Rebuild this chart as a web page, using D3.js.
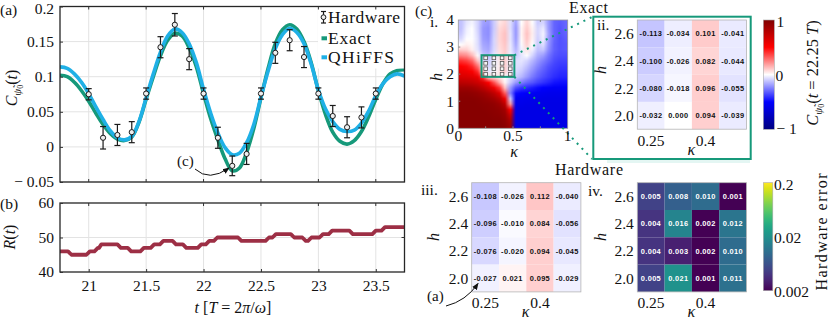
<!DOCTYPE html>
<html>
<head>
<meta charset="utf-8">
<script src="https://cdn.jsdelivr.net/npm/d3@7"></script>
<style>
  body { margin: 0; background: #fff; }
  svg { display: block; }
</style>
</head>
<body>
<svg id="chart" width="830" height="319"></svg>
<script>
// ---- values ----
const tSample = d3.range(20.75, 23.7501, 0.0625);
const exactC = [0.102, 0.100, 0.092, 0.080, 0.065, 0.048, 0.032, 0.019, 0.011, 0.009, 0.014, 0.035,
  0.068, 0.100, 0.130, 0.152, 0.162, 0.158, 0.141, 0.114, 0.076, 0.040, 0.010, -0.017, -0.034, -0.030,
  -0.008, 0.026, 0.070, 0.112, 0.147, 0.167, 0.174, 0.168, 0.150, 0.120, 0.080, 0.046, 0.021, 0.008,
  0.004, 0.009, 0.022, 0.043, 0.068, 0.090, 0.104, 0.109, 0.110];
const qhiffsC = [0.114, 0.112, 0.104, 0.092, 0.076, 0.057, 0.039, 0.023, 0.013, 0.010, 0.015, 0.036,
  0.070, 0.104, 0.135, 0.158, 0.168, 0.163, 0.147, 0.120, 0.082, 0.048, 0.020, -0.001, -0.011, -0.009,
  0.006, 0.032, 0.071, 0.108, 0.140, 0.160, 0.169, 0.163, 0.147, 0.118, 0.081, 0.054, 0.036, 0.025,
  0.022, 0.024, 0.034, 0.051, 0.073, 0.090, 0.100, 0.104, 0.101];
const hwTimes = d3.range(21, 23.5001, 0.125);
const hwC = [0.075, 0.013, 0.017, 0.021, 0.076, 0.142, 0.174, 0.125, 0.076, 0.013, -0.027,
  -0.010, 0.076, 0.134, 0.152, 0.128, 0.076, 0.044, 0.028, 0.042, 0.076];
const hwErr = [0.008, 0.016, 0.015, 0.015, 0.008, 0.015, 0.016, 0.015, 0.008, 0.015, 0.014,
  0.015, 0.008, 0.015, 0.015, 0.015, 0.008, 0.015, 0.015, 0.015, 0.008];

const rTimes = [20.75, 20.82, 20.85, 20.98, 21.01, 21.05, 21.08, 21.09, 21.11, 21.25, 21.28, 21.34,
  21.37, 21.45, 21.48, 21.54, 21.57, 21.62, 21.65, 21.73, 21.76, 21.82, 21.85, 21.95, 21.98, 22.02,
  22.05, 22.09, 22.12, 22.30, 22.33, 22.54, 22.57, 22.60, 22.63, 22.76, 22.79, 22.86, 22.89, 22.91,
  22.94, 23.01, 23.04, 23.09, 23.12, 23.27, 23.30, 23.47, 23.50, 23.55, 23.58, 23.75];
const rValues = [46, 46, 45, 45, 46, 46, 47, 47, 48, 48, 47, 47, 46, 46, 47, 47, 48, 48, 49, 49, 48, 48,
  47, 47, 48, 48, 49, 49, 50, 50, 49, 49, 50, 50, 51, 51, 50, 50, 49, 49, 50, 50, 51, 51, 52, 52, 51, 51,
  52, 52, 53, 53];

const kappaCells = [0.25, 0.325, 0.4, 0.475];
const hCells = [2.6, 2.4, 2.2, 2.0];
const exactCells = [
  [-0.113, -0.034, 0.101, -0.041],
  [-0.100, -0.026, 0.082, -0.044],
  [-0.080, -0.018, 0.096, -0.055],
  [-0.032, 0.000, 0.094, -0.039]];
const hardwareCells = [
  [-0.108, -0.026, 0.112, -0.040],
  [-0.096, -0.010, 0.084, -0.056],
  [-0.076, -0.020, 0.094, -0.045],
  [-0.027, 0.021, 0.095, -0.029]];
const errorCells = [
  [0.005, 0.008, 0.010, 0.001],
  [0.004, 0.016, 0.002, 0.012],
  [0.004, 0.003, 0.002, 0.010],
  [0.005, 0.021, 0.001, 0.011]];

// exact map C(t=22.25T) over kappa in [0,1] (20 cells), h from 4 down to 0 (20 cells)
const mapRows = [
  [-0.12,-0.05,-0.02,-0.08,-0.18,-0.20,-0.10,0.05,0.08,-0.06,-0.18,0.00,0.08,0.00,-0.10,-0.08,-0.20,-0.30,-0.32,-0.30],
  [-0.12,-0.03,0.00,-0.08,-0.20,-0.22,-0.10,0.07,0.10,-0.06,-0.20,0.02,0.10,0.02,-0.08,-0.04,-0.20,-0.30,-0.33,-0.30],
  [-0.10,-0.02,0.00,-0.07,-0.20,-0.22,-0.09,0.08,0.12,-0.05,-0.20,0.02,0.12,0.03,-0.08,-0.02,-0.18,-0.30,-0.33,-0.31],
  [-0.07,0.00,0.00,-0.06,-0.19,-0.21,-0.08,0.08,0.12,-0.05,-0.19,0.01,0.11,0.02,-0.09,-0.03,-0.20,-0.30,-0.34,-0.32],
  [0.00,0.03,0.01,-0.06,-0.17,-0.19,-0.08,0.07,0.11,-0.04,-0.17,-0.01,0.09,0.00,-0.10,-0.06,-0.21,-0.31,-0.34,-0.33],
  [0.10,0.09,0.03,-0.05,-0.15,-0.17,-0.07,0.06,0.10,-0.04,-0.14,-0.03,0.05,-0.03,-0.12,-0.11,-0.23,-0.31,-0.34,-0.33],
  [0.24,0.22,0.14,0.01,-0.11,-0.13,-0.05,0.05,0.10,-0.03,-0.10,-0.05,0.00,-0.08,-0.16,-0.19,-0.27,-0.33,-0.35,-0.35],
  [0.40,0.37,0.30,0.12,-0.06,-0.10,-0.04,0.04,0.09,-0.03,-0.06,-0.05,-0.08,-0.14,-0.20,-0.25,-0.30,-0.35,-0.37,-0.37],
  [0.50,0.48,0.42,0.28,0.05,-0.08,-0.03,0.04,0.09,-0.04,-0.06,-0.07,-0.12,-0.18,-0.24,-0.29,-0.34,-0.37,-0.39,-0.39],
  [0.58,0.56,0.52,0.42,0.12,-0.04,-0.01,0.05,0.09,-0.04,-0.07,-0.10,-0.16,-0.22,-0.28,-0.32,-0.36,-0.39,-0.41,-0.41],
  [0.65,0.64,0.62,0.58,0.40,0.08,0.06,0.04,0.00,-0.06,-0.10,-0.14,-0.20,-0.26,-0.31,-0.35,-0.38,-0.41,-0.43,-0.43],
  [0.76,0.75,0.73,0.69,0.63,0.50,0.34,0.16,0.02,-0.10,-0.20,-0.25,-0.30,-0.33,-0.37,-0.40,-0.43,-0.46,-0.47,-0.47],
  [0.88,0.88,0.86,0.82,0.76,0.67,0.56,0.40,0.12,-0.20,-0.35,-0.40,-0.42,-0.45,-0.48,-0.50,-0.52,-0.53,-0.53,-0.53],
  [0.94,0.94,0.93,0.91,0.88,0.83,0.75,0.62,0.32,-0.25,-0.48,-0.50,-0.52,-0.54,-0.55,-0.56,-0.57,-0.57,-0.57,-0.57],
  [0.96,0.96,0.96,0.95,0.93,0.90,0.86,0.78,0.56,-0.10,-0.55,-0.56,-0.57,-0.58,-0.58,-0.59,-0.59,-0.59,-0.59,-0.59],
  [0.97,0.97,0.97,0.96,0.95,0.94,0.92,0.88,0.75,0.20,-0.58,-0.58,-0.59,-0.59,-0.60,-0.60,-0.60,-0.60,-0.60,-0.60],
  [0.97,0.97,0.97,0.97,0.96,0.95,0.94,0.92,0.86,0.50,-0.60,-0.60,-0.60,-0.60,-0.60,-0.60,-0.60,-0.60,-0.60,-0.60],
  [0.97,0.97,0.97,0.97,0.97,0.96,0.95,0.94,0.90,0.70,-0.60,-0.60,-0.60,-0.60,-0.60,-0.60,-0.60,-0.60,-0.60,-0.60],
  [0.97,0.97,0.97,0.97,0.97,0.97,0.96,0.96,0.93,0.82,-0.60,-0.60,-0.60,-0.60,-0.60,-0.60,-0.60,-0.60,-0.60,-0.60],
  [0.97,0.97,0.97,0.97,0.97,0.97,0.97,0.97,0.95,0.88,-0.60,-0.60,-0.60,-0.60,-0.60,-0.60,-0.60,-0.60,-0.60,-0.60]];

const xTicksA = [21, 21.5, 22, 22.5, 23, 23.5];
const yTicksA = [0.2, 0.15, 0.1, 0.05, 0, -0.05];
const yTicksB = [60, 50, 40];

// ---- setup ----
const serif = "Liberation Serif, DejaVu Serif, serif";
const sans = "Liberation Sans, Arial, sans-serif";
const green = "#16997a";
const blue = "#1fb0e6";
const svg = d3.select("#chart");

const defs = svg.append("defs");
defs.append("marker").attr("id", "arrow").attr("viewBox", "0 0 8 8")
  .attr("refX", 7).attr("refY", 4).attr("markerWidth", 7).attr("markerHeight", 7)
  .attr("orient", "auto").append("path").attr("d", "M0,0.8 L8,4 L0,7.2 Z").attr("fill", "#111");

function label(g, x, y, s, size, anchor) {
  return g.append("text").attr("x", x).attr("y", y).attr("font-size", size || 16)
    .attr("text-anchor", anchor || "start").attr("fill", "#111").text(s);
}

// ---- panel (a) ----
const xA = d3.scaleLinear().domain([20.75, 23.75]).range([60, 404.5]);
const yA = d3.scaleLinear().domain([-0.05, 0.2]).range([182, 6.5]);
const gA = svg.append("g");

defs.append("clipPath").attr("id", "clipA").append("rect")
  .attr("x", 60).attr("y", 6.5).attr("width", 344.5).attr("height", 175.5);

gA.selectAll(".gx").data(xTicksA).join("line")
  .attr("x1", d => xA(d)).attr("x2", d => xA(d)).attr("y1", 6.5).attr("y2", 182)
  .attr("stroke", "#e3e3e3").attr("stroke-width", 1);
gA.selectAll(".gy").data(yTicksA).join("line")
  .attr("x1", 60).attr("x2", 404.5).attr("y1", d => yA(d)).attr("y2", d => yA(d))
  .attr("stroke", "#e3e3e3").attr("stroke-width", 1);

const curveGen = d3.line().x((d, i) => xA(tSample[i])).y(d => yA(d)).curve(d3.curveCatmullRom);
const curves = gA.append("g").attr("clip-path", "url(#clipA)");
curves.append("path").attr("d", curveGen(exactC)).attr("fill", "none")
  .attr("stroke", green).attr("stroke-width", 3.6);
curves.append("path").attr("d", curveGen(qhiffsC)).attr("fill", "none")
  .attr("stroke", blue).attr("stroke-width", 3.6);

const hw = gA.append("g").selectAll("g").data(hwC).join("g");
hw.append("line").attr("x1", (d, i) => xA(hwTimes[i])).attr("x2", (d, i) => xA(hwTimes[i]))
  .attr("y1", (d, i) => yA(d - hwErr[i])).attr("y2", (d, i) => yA(d + hwErr[i]))
  .attr("stroke", "#1a1a1a").attr("stroke-width", 1.2);
[-1, 1].forEach(s => {
  hw.append("line").attr("x1", (d, i) => xA(hwTimes[i]) - 3).attr("x2", (d, i) => xA(hwTimes[i]) + 3)
    .attr("y1", (d, i) => yA(d + s * hwErr[i])).attr("y2", (d, i) => yA(d + s * hwErr[i]))
    .attr("stroke", "#1a1a1a").attr("stroke-width", 1.2);
});
hw.append("circle").attr("cx", (d, i) => xA(hwTimes[i])).attr("cy", d => yA(d)).attr("r", 2.6)
  .attr("fill", "#eeeeee").attr("stroke", "#1a1a1a").attr("stroke-width", 1);

// legend
const lg = gA.append("g");
lg.append("rect").attr("x", 318).attr("y", 7.5).attr("width", 86).attr("height", 61).attr("fill", "#fff");
lg.append("line").attr("x1", 323.5).attr("x2", 323.5).attr("y1", 11.5).attr("y2", 23).attr("stroke", "#1a1a1a").attr("stroke-width", 1.2);
lg.append("line").attr("x1", 321).attr("x2", 326).attr("y1", 11.5).attr("y2", 11.5).attr("stroke", "#1a1a1a").attr("stroke-width", 1.2);
lg.append("line").attr("x1", 321).attr("x2", 326).attr("y1", 23).attr("y2", 23).attr("stroke", "#1a1a1a").attr("stroke-width", 1.2);
lg.append("circle").attr("cx", 323.5).attr("cy", 17.2).attr("r", 2.4).attr("fill", "#eee").attr("stroke", "#1a1a1a");
lg.append("line").attr("x1", 321.5).attr("x2", 327).attr("y1", 38.3).attr("y2", 38.3).attr("stroke", green).attr("stroke-width", 4);
lg.append("line").attr("x1", 321.5).attr("x2", 327).attr("y1", 57.3).attr("y2", 57.3).attr("stroke", blue).attr("stroke-width", 4);
label(lg, 328, 22.5, "Hardware", 17.5).attr("textLength", 72);
label(lg, 328, 43.5, "Exact", 17.5).attr("textLength", 43);
label(lg, 328, 62.5, "QHiFFS", 17.5).attr("textLength", 66);

// frame + ticks
gA.append("rect").attr("x", 60).attr("y", 6.5).attr("width", 344.5).attr("height", 175.5)
  .attr("fill", "none").attr("stroke", "#262626").attr("stroke-width", 1.3);
xTicksA.forEach(t => {
  gA.append("line").attr("x1", xA(t)).attr("x2", xA(t)).attr("y1", 182).attr("y2", 179).attr("stroke", "#333");
  gA.append("line").attr("x1", xA(t)).attr("x2", xA(t)).attr("y1", 6.5).attr("y2", 9.5).attr("stroke", "#333");
});
const axA = gA.append("g").attr("transform", "translate(60,0)")
  .call(d3.axisLeft(yA).tickValues(yTicksA).tickSizeInner(-3).tickSizeOuter(0).tickPadding(6)
    .tickFormat(v => v === 0 ? "0" : v < 0 ? "\u2212 " + (-v) : String(v)));
axA.select(".domain").remove();
axA.selectAll("text").attr("font-size", 15.5).attr("fill", "#111");
axA.selectAll("text").filter(d => d === 0.2).attr("dy", "0.45em");
axA.selectAll("line").attr("stroke", "#333");

label(svg, 0, 15, "(a)", 15.5);
const ylA = svg.append("text").attr("transform", "translate(16.5,88) rotate(-90)")
  .attr("text-anchor", "middle").attr("font-size", 16).attr("fill", "#111");
ylA.append("tspan").attr("font-style", "italic").text("C");
ylA.append("tspan").attr("font-style", "italic").attr("font-size", 11).attr("dy", 4).text("\u03C8\u0303");
ylA.append("tspan").attr("font-size", 8).attr("dy", 2).text("0");
ylA.append("tspan").attr("dy", -6).text("(");
ylA.append("tspan").attr("font-style", "italic").text("t");
ylA.append("tspan").text(")");

// annotation (c) in (a)
label(svg, 177, 166, "(c)", 15);
svg.append("path").attr("d", "M195,169 Q209,182 229,168").attr("fill", "none")
  .attr("stroke", "#111").attr("stroke-width", 1).attr("marker-end", "url(#arrow)");

// ---- panel (b) ----
const yB = d3.scaleLinear().domain([40, 60]).range([272, 203]);
const gB = svg.append("g");
defs.append("clipPath").attr("id", "clipB").append("rect")
  .attr("x", 60).attr("y", 203).attr("width", 344.5).attr("height", 69);
gB.selectAll(".gx").data(xTicksA).join("line")
  .attr("x1", d => xA(d)).attr("x2", d => xA(d)).attr("y1", 203).attr("y2", 272)
  .attr("stroke", "#e3e3e3");
gB.append("line").attr("x1", 60).attr("x2", 404.5).attr("y1", yB(50)).attr("y2", yB(50)).attr("stroke", "#e3e3e3");
gB.append("path").attr("clip-path", "url(#clipB)")
  .attr("d", d3.line().x((d, i) => xA(rTimes[i])).y(d => yB(d))(rValues))
  .attr("fill", "none").attr("stroke", "#9d2f45").attr("stroke-width", 3.8).attr("stroke-linejoin", "round");
gB.append("rect").attr("x", 60).attr("y", 203).attr("width", 344.5).attr("height", 69)
  .attr("fill", "none").attr("stroke", "#262626").attr("stroke-width", 1.3);
xTicksA.forEach(t => {
  gB.append("line").attr("x1", xA(t)).attr("x2", xA(t)).attr("y1", 203).attr("y2", 206).attr("stroke", "#333");
});
const axBx = gB.append("g").attr("transform", "translate(0,272)")
  .call(d3.axisBottom(xA).tickValues(xTicksA).tickSizeInner(-3).tickSizeOuter(0).tickPadding(8).tickFormat(d => String(d)));
axBx.select(".domain").remove();
axBx.selectAll("text").attr("font-size", 15.5).attr("fill", "#111");
axBx.selectAll("line").attr("stroke", "#333");
const axBy = gB.append("g").attr("transform", "translate(60,0)")
  .call(d3.axisLeft(yB).tickValues(yTicksB).tickSizeInner(-3).tickSizeOuter(0).tickPadding(6));
axBy.select(".domain").remove();
axBy.selectAll("text").attr("font-size", 15.5).attr("fill", "#111");
axBy.selectAll("line").attr("stroke", "#333");
gB.append("line").attr("x1", 404.5).attr("x2", 401.5).attr("y1", yB(50)).attr("y2", yB(50)).attr("stroke", "#333");

label(svg, 0, 209, "(b)", 15.5);
const ylB = svg.append("text").attr("transform", "translate(15,237) rotate(-90)")
  .attr("text-anchor", "middle").attr("font-size", 16).attr("fill", "#111");
ylB.append("tspan").attr("font-style", "italic").text("R");
ylB.append("tspan").text("(");
ylB.append("tspan").attr("font-style", "italic").text("t");
ylB.append("tspan").text(")");

const xlB = svg.append("text").attr("x", 233).attr("y", 313).attr("text-anchor", "middle")
  .attr("font-size", 16).attr("fill", "#111");
xlB.append("tspan").attr("font-style", "italic").text("t");
xlB.append("tspan").text(" [");
xlB.append("tspan").attr("font-style", "italic").text("T");
xlB.append("tspan").text(" = 2");
xlB.append("tspan").attr("font-style", "italic").text("\u03C0");
xlB.append("tspan").text("/");
xlB.append("tspan").attr("font-style", "italic").text("\u03C9");
xlB.append("tspan").text("]");

// ---- panel (c) map ----
const xC = d3.scaleLinear().domain([0, 1]).range([458.3, 567.7]);
const yC = d3.scaleLinear().domain([0, 4]).range([128.3, 20]);
const div = d3.scaleLinear().domain([-1, -0.5, 0, 0.5, 1])
  .range(["#00007f", "#0000ff", "#ffffff", "#ff0000", "#7f0000"]).clamp(true);

const small = document.createElement("canvas");
small.width = mapRows[0].length; small.height = mapRows.length;
const sctx = small.getContext("2d");
const idata = sctx.createImageData(small.width, small.height);
mapRows.forEach((row, j) => row.forEach((v, i) => {
  const c = d3.rgb(div(v)), k = 4 * (j * small.width + i);
  idata.data[k] = c.r; idata.data[k + 1] = c.g; idata.data[k + 2] = c.b; idata.data[k + 3] = 255;
}));
sctx.putImageData(idata, 0, 0);
const big = document.createElement("canvas");
big.width = 220; big.height = 216;
const bctx = big.getContext("2d");
bctx.imageSmoothingEnabled = true;
bctx.drawImage(small, 0, 0, big.width, big.height);

const gC = svg.append("g");
gC.append("image").attr("x", xC(0)).attr("y", yC(4)).attr("width", xC(1) - xC(0)).attr("height", yC(0) - yC(4))
  .attr("preserveAspectRatio", "none").attr("href", big.toDataURL());
gC.append("rect").attr("x", xC(0)).attr("y", yC(4)).attr("width", xC(1) - xC(0)).attr("height", yC(0) - yC(4))
  .attr("fill", "none").attr("stroke", "#9a9a9a").attr("stroke-width", 0.8);
[0.25, 0.5, 0.75].forEach(k => {
  gC.append("line").attr("x1", xC(k)).attr("x2", xC(k)).attr("y1", yC(4)).attr("y2", yC(4) + 2).attr("stroke", "#888");
  gC.append("line").attr("x1", xC(k)).attr("x2", xC(k)).attr("y1", yC(0)).attr("y2", yC(0) - 2).attr("stroke", "#888");
});
[1, 2, 3].forEach(h => {
  gC.append("line").attr("x1", xC(0)).attr("x2", xC(0) + 2).attr("y1", yC(h)).attr("y2", yC(h)).attr("stroke", "#888");
});
// zoom window
gC.append("rect").attr("x", xC(0.2125)).attr("y", yC(2.7)).attr("width", xC(0.5125) - xC(0.2125))
  .attr("height", yC(1.9) - yC(2.7)).attr("fill", "none").attr("stroke", green).attr("stroke-width", 2);
kappaCells.forEach(k => hCells.forEach(h => {
  gC.append("rect").attr("x", xC(k) - 1.8).attr("y", yC(h) - 1.8).attr("width", 3.6).attr("height", 3.6)
    .attr("fill", "#f4f4f4").attr("stroke", "#555").attr("stroke-width", 0.8);
}));
gC.append("line").attr("x1", xC(0.5125)).attr("y1", yC(2.7)).attr("x2", 592).attr("y2", 17)
  .attr("stroke", green).attr("stroke-width", 2).attr("stroke-dasharray", "2,5");
gC.append("line").attr("x1", xC(0.5125)).attr("y1", yC(1.9)).attr("x2", 592).attr("y2", 159)
  .attr("stroke", green).attr("stroke-width", 2).attr("stroke-dasharray", "2,5");

label(svg, 415, 16, "(c)", 15.5);
label(svg, 430, 27, "i.", 15.5);
[0, 1, 2, 3, 4].forEach(h => label(gC, 454, yC(h) + 5.3, String(h), 15.5, "end"));
[[0, "0"], [0.5, "0.5"], [1, "1"]].forEach(([k, s]) => label(gC, xC(k), 141, s, 15.5, "middle"));
label(gC, 514, 156.5, "\u03BA", 16, "middle").attr("font-style", "italic");
label(gC, 0, 0, "h", 16, "middle").attr("font-style", "italic")
  .attr("transform", "translate(442,77) rotate(-90)");
label(svg, 588.5, 12.5, "Exact", 16, "middle").attr("textLength", 39);

// ---- cell panels ----
function cellPanel(x0, y0, rows, color, textColor, fmt) {
  const xb = d3.scaleBand().domain(kappaCells).range([x0, x0 + 109.2]);
  const yb = d3.scaleBand().domain(hCells).range([y0, y0 + 109.2]);
  const g = svg.append("g");
  rows.forEach((row, j) => row.forEach((v, i) => {
    g.append("rect").attr("x", xb(kappaCells[i])).attr("y", yb(hCells[j]))
      .attr("width", xb.bandwidth()).attr("height", yb.bandwidth()).attr("fill", color(v));
    g.append("text").attr("class", "cell")
      .attr("x", xb(kappaCells[i]) + xb.bandwidth() / 2).attr("y", yb(hCells[j]) + yb.bandwidth() / 2 + 2.6)
      .attr("text-anchor", "middle").attr("font-weight", "bold")
      .attr("font-size", 7.4).attr("letter-spacing", 0.35).attr("fill", textColor).text(fmt(v));
  }));
  g.append("rect").attr("x", x0).attr("y", y0).attr("width", 109.2).attr("height", 109.2)
    .attr("fill", "none").attr("stroke", "#b5b5b5").attr("stroke-width", 0.8);
  hCells.forEach(h => label(g, x0 - 3.5, yb(h) + yb.bandwidth() / 2 + 5.3, h.toFixed(1), 15.5, "end"));
  [0.25, 0.4].forEach(k => label(g, xb(k) + xb.bandwidth() / 2, y0 + 125.5, String(k), 15.5, "middle"));
  label(g, x0 + 54, y0 + 134.5, "\u03BA", 16, "middle").attr("font-style", "italic");
  return g;
}
const fmtC = v => v.toFixed(3);
cellPanel(637.3, 20, exactCells, div, "#111", fmtC);
cellPanel(471.7, 182.7, hardwareCells, div, "#111", fmtC);
const errLog = d3.scaleLog().domain([0.002, 0.2]).range([0, 1]).clamp(true);
cellPanel(637.3, 182.7, errorCells, v => d3.interpolateViridis(errLog(v)), "#fff", fmtC);

// panel labels for ii, iii, iv
label(svg, 597, 30, "ii.", 15.5);
label(svg, 0, 0, "h", 16, "middle").attr("font-style", "italic").attr("transform", "translate(606,70) rotate(-90)");
label(svg, 421, 195, "iii.", 15.5);
label(svg, 0, 0, "h", 16, "middle").attr("font-style", "italic").attr("transform", "translate(439,237) rotate(-90)");
label(svg, 588, 196, "iv.", 15.5);
label(svg, 0, 0, "h", 16, "middle").attr("font-style", "italic").attr("transform", "translate(606,237) rotate(-90)");
label(svg, 589, 175, "Hardware", 16, "middle").attr("textLength", 68);
svg.append("rect").attr("x", 607).attr("y", 159.5).attr("width", 143).attr("height", 3.5).attr("fill", "#e4f6f3");

// inset frame ii
svg.append("rect").attr("x", 593.3).attr("y", 16.7).attr("width", 157.4).attr("height", 142.3)
  .attr("fill", "none").attr("stroke", green).attr("stroke-width", 2);

// arrow (a) in iii
label(svg, 427, 301, "(a)", 15);
svg.append("path").attr("d", "M446,306 Q466,301 478,283.5").attr("fill", "none")
  .attr("stroke", "#111").attr("stroke-width", 1).attr("marker-end", "url(#arrow)");

// ---- colorbars ----
const gradDiv = defs.append("linearGradient").attr("id", "gdiv").attr("x1", 0).attr("y1", 1).attr("x2", 0).attr("y2", 0);
d3.range(0, 1.0001, 0.05).forEach(o => gradDiv.append("stop").attr("offset", o).attr("stop-color", div(-1 + 2 * o)));
svg.append("rect").attr("x", 763.3).attr("y", 20).attr("width", 11).attr("height", 109.3)
  .attr("fill", "url(#gdiv)").attr("stroke", "#aaa").attr("stroke-width", 0.6);
label(svg, 776.5, 27, "1", 15.5);
label(svg, 775.5, 80.5, "0", 15.5);
label(svg, 776.5, 133.5, "\u2212 1", 15.5);
const cbl = svg.append("text").attr("transform", "translate(818,73) rotate(-90)")
  .attr("text-anchor", "middle").attr("font-size", 16.5).attr("fill", "#111");
cbl.append("tspan").attr("font-style", "italic").text("C");
cbl.append("tspan").attr("font-style", "italic").attr("font-size", 11).attr("dy", 4).text("\u03C8\u0303");
cbl.append("tspan").attr("font-size", 8).attr("dy", 2).text("0");
cbl.append("tspan").attr("dy", -6).text("(");
cbl.append("tspan").attr("font-style", "italic").text("t");
cbl.append("tspan").text(" = 22.25 ");
cbl.append("tspan").attr("font-style", "italic").text("T");
cbl.append("tspan").text(")");

const gradVir = defs.append("linearGradient").attr("id", "gvir").attr("x1", 0).attr("y1", 1).attr("x2", 0).attr("y2", 0);
d3.range(0, 1.0001, 0.05).forEach(o => gradVir.append("stop").attr("offset", o).attr("stop-color", d3.interpolateViridis(o)));
svg.append("rect").attr("x", 763.3).attr("y", 182.7).attr("width", 9.5).attr("height", 108)
  .attr("fill", "url(#gvir)").attr("stroke", "#aaa").attr("stroke-width", 0.6);
label(svg, 774, 190, "0.2", 15.5);
label(svg, 774, 243, "0.02", 15.5);
label(svg, 774, 296.5, "0.002", 15.5);
label(svg, 0, 0, "Hardware error", 16, "middle").attr("textLength", 117)
  .attr("transform", "translate(827,232) rotate(-90)");

// fonts: serif everywhere, sans for the numbers inside cells
svg.selectAll("text").attr("font-family", serif);
svg.selectAll("text.cell").attr("font-family", sans);
</script>
</body>
</html>
